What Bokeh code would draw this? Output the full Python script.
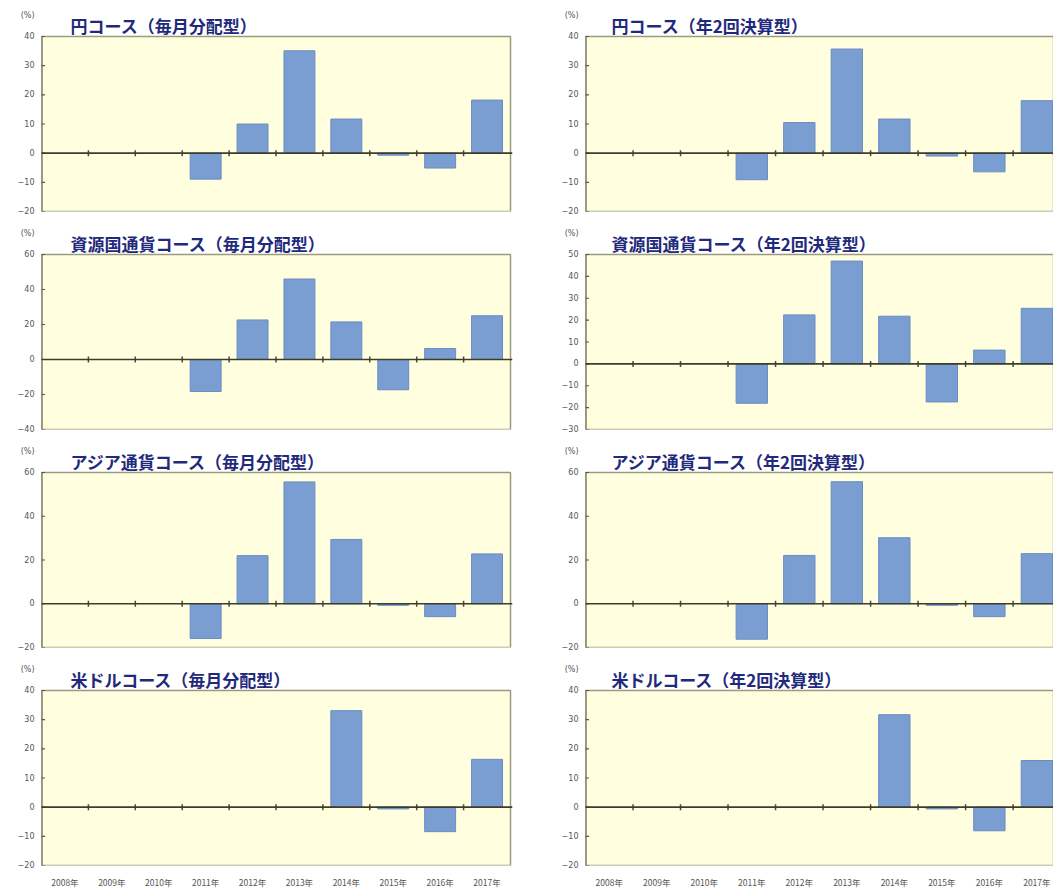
import math
import numpy as np
from bokeh.plotting import figure
from bokeh.layouts import column, row
from bokeh.models import (FixedTicker, Span, Range1d, ColumnDataSource,
                          BoxAnnotation)
from bokeh.core.properties import value
from bokeh.embed import file_html
from bokeh.resources import INLINE

years = ["2008年", "2009年", "2010年", "2011年", "2012年",
         "2013年", "2014年", "2015年", "2016年", "2017年"]

titles_left = ["円コース（毎月分配型）", "資源国通貨コース（毎月分配型）",
               "アジア通貨コース（毎月分配型）", "米ドルコース（毎月分配型）"]
titles_right = ["円コース（年2回決算型）", "資源国通貨コース（年2回決算型）",
                "アジア通貨コース（年2回決算型）", "米ドルコース（年2回決算型）"]
unit_label = "(%)"

yen_monthly = [None, None, None, -8.9, 10.0, 35.1, 11.7, -0.7, -5.1, 18.2]
yen_semi = [None, None, None, -9.1, 10.5, 35.7, 11.7, -1.0, -6.4, 18.0]
res_monthly = [None, None, None, -18.3, 22.6, 46.0, 21.5, -17.3, 6.3, 25.0]
res_semi = [None, None, None, -18.0, 22.4, 47.0, 21.8, -17.4, 6.3, 25.4]
asia_monthly = [None, None, None, -15.9, 22.0, 55.7, 29.4, -0.7, -5.9, 22.8]
asia_semi = [None, None, None, -16.2, 22.1, 55.8, 30.2, -0.7, -5.9, 22.9]
usd_monthly = [None, None, None, None, None, None, 33.1, -0.6, -8.4, 16.4]
usd_semi = [None, None, None, None, None, None, 31.7, -0.6, -8.1, 16.0]

left_series = [yen_monthly, res_monthly, asia_monthly, usd_monthly]
right_series = [yen_semi, res_semi, asia_semi, usd_semi]

left_yticks = [list(range(-20, 41, 10)), list(range(-40, 61, 20)),
               list(range(-20, 61, 20)), list(range(-20, 41, 10))]
right_yticks = [list(range(-20, 41, 10)), list(range(-30, 51, 10)),
                list(range(-20, 61, 20)), list(range(-20, 41, 10))]

JP = "Noto Sans CJK JP"
BAR_FILL = "#7a9ed2"
BAR_LINE = "#6a8cc2"
BG = "#ffffe0"
FRAME = "#9a9a80"
AXIS = "#5a5a42"
TITLE_C = "#1f2a7c"
TICK_C = "#555555"

CHART_H = 175      # height of the yellow plot box in px
HEAD_H = 28        # space above the box for title and unit label


def make_panel(vals, yticks, title, side, bottom):
    n = len(years)
    centers = [i + 0.5 for i in range(n)]
    bounds = [i + 1 for i in range(n - 1)]
    if side == "left":
        fw, bl, br = 471, 41, 33
        x_end = n * 471 / 469
        title_px = 29
    else:
        fw, bl, br = 468, 40, 0
        x_end = n - 0.15
        title_px = 26
    lo, hi = yticks[0], yticks[-1]
    upp = (hi - lo) / CHART_H          # data units per pixel (y)
    xupp = x_end / fw                  # data units per pixel (x)
    y_end = hi + HEAD_H * upp
    bb = 23 if bottom else 7
    p = figure(frame_width=fw, frame_height=CHART_H + HEAD_H,
               min_border_left=bl, min_border_right=br,
               min_border_top=8, min_border_bottom=bb,
               x_range=Range1d(0, x_end), y_range=Range1d(lo, y_end),
               output_backend="svg", toolbar_location=None,
               background_fill_color="white", border_fill_color="white")
    p.grid.visible = False
    p.outline_line_color = None

    box = BoxAnnotation(left=0, right=(n if side == "left" else None),
                        bottom=lo, top=hi, fill_color=BG, fill_alpha=1.0,
                        line_color=FRAME, line_alpha=1.0, line_width=1.5,
                        level="underlay")
    p.add_layout(box)

    tops = np.array([np.nan if v is None else v for v in vals], dtype=float)
    src = ColumnDataSource(dict(x=centers, top=tops))
    p.vbar(x="x", top="top", bottom=0, width=0.66, source=src,
           fill_color=BAR_FILL, line_color=BAR_LINE, line_width=1)

    p.add_layout(Span(location=0, dimension="width", line_color="#3c3c2c",
                      line_width=1.6))
    p.scatter(x=bounds, y=[0] * len(bounds), marker="dash", angle=math.pi / 2,
              size=6, line_color="#4a4a30", line_width=1.5)
    # left edge of the box (axis line) and y tick marks
    p.segment(x0=[0], y0=[lo], x1=[0], y1=[hi], line_color=AXIS, line_width=2)
    p.scatter(x=[0] * len(yticks), y=yticks, marker="dash", size=7,
              line_color=AXIS, line_width=1.2)

    unit_y = hi + 21 * upp
    ya = p.yaxis[0]
    ya.ticker = FixedTicker(ticks=yticks + [unit_y])
    ya.major_label_overrides = {unit_y: unit_label}
    ya.minor_tick_line_color = None
    ya.major_tick_line_color = None
    ya.major_tick_in = 0
    ya.major_tick_out = 0
    ya.axis_line_color = None
    ya.major_label_text_font_size = "8px"
    ya.major_label_text_color = TICK_C
    ya.major_label_text_font = "DejaVu Sans"
    ya.major_label_standoff = 7

    xa = p.xaxis[0]
    if bottom:
        xa.ticker = FixedTicker(ticks=centers)
        xa.major_label_overrides = {c: y for c, y in zip(centers, years)}
        xa.axis_line_color = None
        xa.major_tick_line_color = None
        xa.minor_tick_line_color = None
        xa.major_tick_in = 0
        xa.major_tick_out = 0
        xa.major_label_text_font_size = "8.5px"
        xa.major_label_text_color = TICK_C
        xa.major_label_text_font = JP
        xa.major_label_standoff = 10
    else:
        xa.visible = False

    p.text(x=[title_px * xupp], y=[hi + 11 * upp], text=[title],
           text_font=value(JP), text_font_size="17px", text_font_style="bold",
           text_color=TITLE_C, text_align="left", text_baseline="middle")
    return p


rows = []
for k in range(4):
    bottom = (k == 3)
    pl = make_panel(left_series[k], left_yticks[k], titles_left[k], "left", bottom)
    pr = make_panel(right_series[k], right_yticks[k], titles_right[k], "right", bottom)
    rows.append(row(pl, pr, spacing=0))

layout = column(*rows, spacing=0)

open("out.html", "w").write(file_html(layout, INLINE))
